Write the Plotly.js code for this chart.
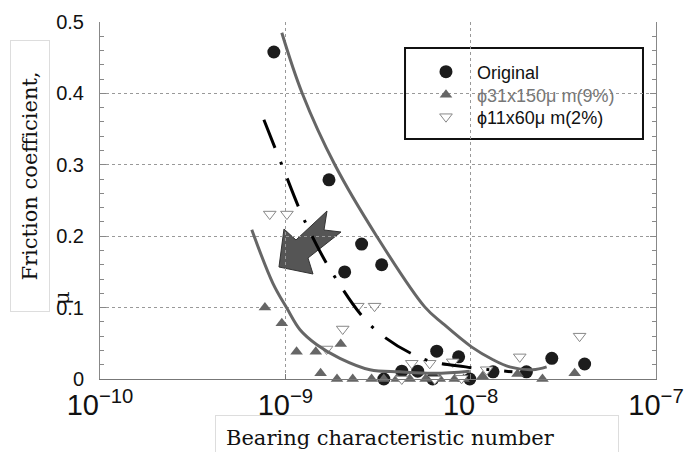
<!DOCTYPE html>
<html>
<head>
<meta charset="utf-8">
<script src="https://cdn.plot.ly/plotly-3.0.1.min.js"></script>
<style>html,body{margin:0;padding:0;background:#fff;}#chart{width:689px;height:452px;}</style>
</head>
<body>
<div id="chart"></div>
<script>
// Original (black circles)
const origX = [8.67e-10, 1.72e-9, 2.09e-9, 2.58e-9, 3.31e-9, 3.40e-9, 4.25e-9, 5.18e-9, 6.24e-9, 6.56e-9, 8.61e-9, 9.89e-9, 1.32e-8, 2.00e-8, 2.74e-8, 4.12e-8];
const origY = [0.458, 0.279, 0.150, 0.189, 0.160, 0.0, 0.011, 0.011, 0.0, 0.039, 0.031, 0.0, 0.010, 0.010, 0.029, 0.021];
// phi31x150 um (9%) (gray filled triangles)
const t31X = [7.76e-10, 9.57e-10, 1.15e-9, 1.46e-9, 1.99e-9, 1.55e-9, 1.90e-9, 2.31e-9, 2.92e-9, 3.40e-9, 3.99e-9, 4.69e-9, 5.71e-9, 6.81e-9, 8.20e-9, 9.16e-9, 1.16e-8, 1.79e-8, 2.44e-8, 3.64e-8];
const t31Y = [0.100, 0.078, 0.038, 0.038, 0.049, 0.008, 0, 0, 0, 0, 0, 0, 0, 0, 0, 0, 0.004, 0.007, 0, 0.008];
// phi11x60 um (2%) (open down triangles)
const t11X = [8.24e-10, 1.02e-9, 2.46e-9, 3.03e-9, 2.04e-9, 1.67e-9, 4.81e-9, 6.01e-9, 8.00e-9, 1.22e-8, 1.84e-8, 3.87e-8, 6.40e-9, 8.93e-9, 4.25e-9];
const t11Y = [0.231, 0.231, 0.102, 0.102, 0.070, 0.042, 0.022, 0.022, 0.024, 0.013, 0.031, 0.060, 0.0, 0.001, 0.0];
// fitted curves
const upperX = [9.57e-10, 1.23e-9, 1.85e-9, 3.11e-9, 5.65e-9, 7.06e-9, 1.01e-8, 1.32e-8, 1.62e-8, 2.16e-8, 2.57e-8];
const upperY = [0.485, 0.401, 0.300, 0.200, 0.101, 0.078, 0.045, 0.027, 0.017, 0.013, 0.017];
const lowerX = [6.59e-10, 8.57e-10, 1.02e-9, 1.20e-9, 1.48e-9, 1.97e-9, 2.86e-9, 4.14e-9, 6.40e-9, 9.89e-9];
const lowerY = [0.209, 0.134, 0.099, 0.069, 0.048, 0.029, 0.013, 0.010, 0.008, 0.011];
const dashX = [7.66e-10, 9.57e-10, 1.29e-9, 1.87e-9, 3.00e-9, 5.58e-9, 9.40e-9, 1.68e-8];
const dashY = [0.363, 0.300, 0.218, 0.141, 0.071, 0.028, 0.017, 0.010];
// tick labels
const xTickVals = [1e-10, 1e-9, 1e-8, 1e-7];
const xTickText = ['10<sup>−10</sup>', '10<sup>−9</sup>', '10<sup>−8</sup>', '10<sup>−7</sup>'];
const seriesNames = ['Original', '<span style="color:#777">ϕ31x150μ m(9%)</span>', 'ϕ11x60μ m(2%)'];

const narrow = 'Liberation Sans Narrow, Arial Narrow, Liberation Sans, Arial, sans-serif';
const serif = 'DejaVu Serif, Liberation Serif, serif';
const legFont = {family: 'Liberation Sans, Arial, sans-serif', size: 18, color: '#111'};

function legendAt(yPix) {
  return {x: 0.5665, y: (379 - yPix) / 357, xanchor: 'left', yanchor: 'middle',
          bgcolor: 'rgba(0,0,0,0)', borderwidth: 0, itemwidth: 52, font: legFont};
}

const traces = [
  {x: origX, y: origY, type: 'scatter', mode: 'markers', name: seriesNames[0], cliponaxis: false,
   legend: 'legend', marker: {symbol: 'circle', size: 13, color: '#1c1c1c'}},
  {x: t31X, y: t31Y, type: 'scatter', mode: 'markers', name: seriesNames[1], cliponaxis: false,
   legend: 'legend2', marker: {symbol: 'triangle-up', size: 11, color: '#666'}},
  {x: t11X, y: t11Y, type: 'scatter', mode: 'markers', name: seriesNames[2], cliponaxis: false,
   legend: 'legend3', marker: {symbol: 'triangle-down', size: 11, color: '#fff', line: {color: '#888', width: 1}}},
  {x: lowerX, y: lowerY, type: 'scatter', mode: 'lines', showlegend: false,
   line: {color: '#666', width: 3, shape: 'spline', smoothing: 1}},
  {x: upperX, y: upperY, type: 'scatter', mode: 'lines', showlegend: false,
   line: {color: '#666', width: 3, shape: 'spline', smoothing: 1}},
  {x: dashX, y: dashY, type: 'scatter', mode: 'lines', showlegend: false,
   line: {color: '#000', width: 3, shape: 'spline', smoothing: 1, dash: '30px,15px,3px,15px'}}
];

const layout = {
  width: 689, height: 452,
  margin: {l: 100, r: 33, t: 22, b: 73},
  paper_bgcolor: '#fff', plot_bgcolor: '#fff',
  hovermode: false,
  showlegend: true,
  legend: legendAt(72),
  legend2: legendAt(95),
  legend3: legendAt(117),
  xaxis: {type: 'log', range: [-10, -7], tickvals: xTickVals, ticktext: xTickText,
          showgrid: true, gridcolor: '#999', griddash: 'dot', gridwidth: 1,
          showline: true, linecolor: '#777', linewidth: 1, mirror: false,
          ticks: 'inside', ticklen: 5, tickcolor: '#777', zeroline: false,
          tickfont: {family: narrow, size: 29, color: '#111'}, ticklabelstandoff: 0},
  yaxis: {range: [0, 0.5], tick0: 0, dtick: 0.1,
          showgrid: true, gridcolor: '#999', griddash: 'dot', gridwidth: 1,
          showline: true, linecolor: '#888', linewidth: 1, mirror: 'ticks',
          ticks: 'inside', ticklen: 6, tickcolor: '#888', zeroline: false,
          minor: {dtick: 0.02, ticks: 'inside', ticklen: 4, tickcolor: '#888', showgrid: false},
          tickfont: {family: narrow, size: 20, color: '#111'}, ticklabelstandoff: 11},
  shapes: [
    {type: 'rect', xref: 'paper', yref: 'paper', x0: 0.5486, x1: 0.9766, y0: 0.6723, y1: 0.9272,
     line: {color: '#111', width: 2}, fillcolor: '#fff', layer: 'between'},
    {type: 'path', xref: 'paper', yref: 'paper', layer: 'between',
     path: 'M0.3219,0.3137 L0.3309,0.4202 L0.3525,0.3894 L0.4083,0.4706 L0.4029,0.4174 L0.4335,0.4118 L0.3741,0.3389 L0.3831,0.2941 Z',
     fillcolor: '#555', line: {color: '#333', width: 1}}
  ],
  annotations: [
    {text: 'Friction coefficient,', xref: 'paper', yref: 'paper', x: -0.1259, y: 0.5686,
     xanchor: 'center', yanchor: 'middle', textangle: -90, showarrow: false,
     width: 268, height: 36, bordercolor: '#ddd', borderwidth: 1,
     font: {family: serif, size: 21, color: '#111'}},
    {text: 'μ', xref: 'paper', yref: 'paper', x: -0.0683, y: 0.2269,
     xanchor: 'center', yanchor: 'middle', textangle: -90, showarrow: false,
     font: {family: serif, size: 21, color: '#111'}},
    {text: 'Bearing characteristic number', xref: 'paper', yref: 'paper', x: 0.5701, y: -0.1653,
     xanchor: 'center', yanchor: 'middle', showarrow: false, align: 'left',
     width: 382, height: 24, borderpad: 10, bordercolor: '#ddd', borderwidth: 1,
     font: {family: serif, size: 21, color: '#111'}}
  ]
};

Plotly.newPlot('chart', traces, layout, {staticPlot: true, displayModeBar: false});
</script>
</body>
</html>
